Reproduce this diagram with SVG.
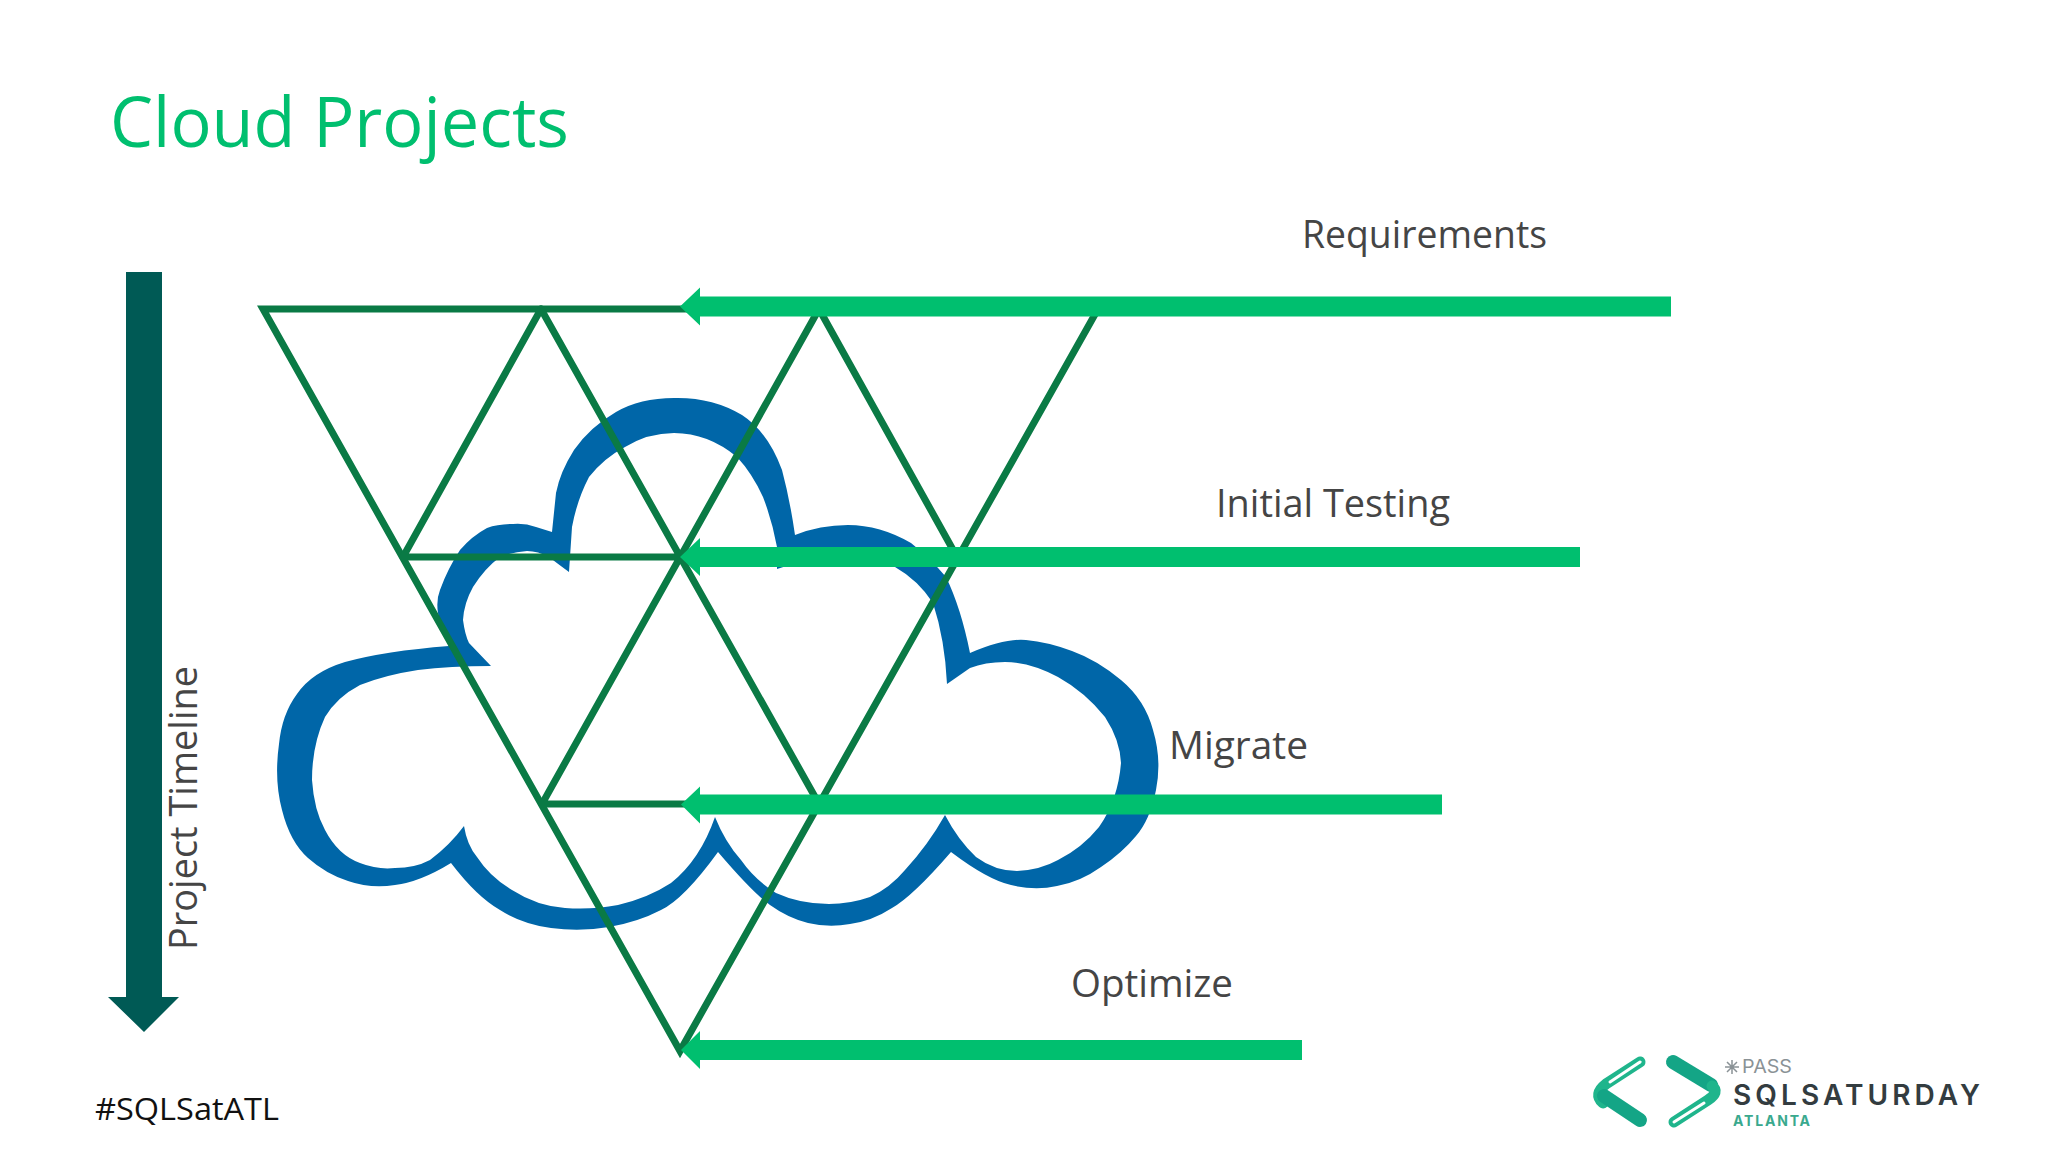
<svg xmlns="http://www.w3.org/2000/svg" width="2048" height="1152" viewBox="0 0 2048 1152">
<style>
.t{font-family:"Open Sans","Noto Sans",sans-serif;fill:#454545;font-size:38px}
.tri{stroke:#0a7a45;stroke-width:7;fill:none;stroke-linecap:round}
.arr{fill:#00bf6f}
</style>
<rect width="2048" height="1152" fill="#fff"/>
<text x="110" y="147" font-family="'Open Sans','Noto Sans',sans-serif" font-size="70" fill="#00bf6f" textLength="459" lengthAdjust="spacingAndGlyphs">Cloud Projects</text>
<g id="cloud">
<path fill="#0066a8" fill-rule="evenodd" d="M449 646Q385 651 345 662Q312 672 297 694Q282 714 279 744Q274 780 282 810Q290 842 308 858Q326 874 348 881Q371 889 395 885Q420 882 451 863Q477 897 500 910Q522 924 551 928Q580 932 609 927Q638 922 661 910Q684 899 718 852Q753 893 770 905Q788 918 808 923Q829 928 850 924Q872 921 892 908Q913 896 951 852Q988 880 1011 885Q1035 891 1057 886Q1080 882 1101 867Q1122 853 1136 836Q1150 820 1156 790Q1162 760 1153 730Q1145 700 1121 680Q1097 660 1072 651Q1048 642 1026 640Q1005 638 970 653Q961 608 946 577Q930 558 911 543Q880 525 848 525Q820 525 795 535Q790 500 782 470Q768 432 742 415Q712 397 674 398Q640 398 616 412Q590 427 574 450Q560 472 556 493L552 532L536 527Q525 523 513 524Q498 524 487 528Q472 536 460 550Q448 568 440 590Q436 600 438 613Q440 630 449 646Z M491 666Q450 666 418 670Q385 675 360 685Q337 697 325 717Q312 745 312 780Q314 810 325 830Q338 855 360 863Q378 870 395 868Q415 868 430 860Q450 845 464 826Q467 845 477 857Q490 877 512 890Q537 906 565 908Q592 910 618 905Q648 898 671 883Q700 860 715 817Q725 842 741 860Q755 880 776 893Q800 904 829 904Q850 904 870 897Q890 888 905 870Q928 845 945 815Q958 840 976 857Q995 871 1017 871Q1040 870 1058 860Q1082 848 1099 827Q1118 800 1121 763Q1120 740 1105 717Q1085 692 1058 677Q1030 662 1005 662Q985 662 970 668L947 684Q945 640 933 603Q918 580 895 567Q872 558 848 558Q822 557 799 562L777 569L777 547Q772 520 763 497Q752 473 737 457Q708 433 674 433Q648 433 625 447Q604 458 589 477Q577 500 572 527L569 572Q558 564 549 557Q538 551 527 551Q512 552 500 557Q485 568 473 587Q464 603 463 620Q465 635 469 643Z"/>
</g>
<g id="connectors">
<g id="triangles">
<path class="tri" d="M263 309H1098L680 1051Z"/>
<path class="tri" d="M403 557H957M542 804H819M541 309L403 557M541 309L819 804M819 309L542 804M819 309L957 557"/>
</g>
<g id="arrows">
<path class="arr" d="M680 306.500L700 287.500V296.500H1671V316.500H700V325.500Z"/>
<path class="arr" d="M680 557L700 538V547H1580V567H700V576Z"/>
<path class="arr" d="M681 804.500L700 786.500V794.500H1442V814.500H700V823.500Z"/>
<path class="arr" d="M681 1050L700 1031V1040H1302V1060H700V1069Z"/>
<path id="timeline-arrow" fill="#005a55" d="M126 272H162V997H179L144 1032L108 997H126Z"/>
</g>
</g>
<g id="labels">
<text class="t" x="1302" y="248" textLength="245" lengthAdjust="spacingAndGlyphs">Requirements</text>
<text class="t" x="1216" y="517" textLength="234" lengthAdjust="spacingAndGlyphs">Initial Testing</text>
<text class="t" x="1169" y="759" textLength="139" lengthAdjust="spacingAndGlyphs">Migrate</text>
<text class="t" x="1071" y="997" textLength="162" lengthAdjust="spacingAndGlyphs">Optimize</text>
<text class="t" transform="translate(197 950) rotate(-90)" textLength="284" lengthAdjust="spacingAndGlyphs">Project Timeline</text>
<text x="95" y="1120" font-family="'Open Sans','Noto Sans',sans-serif" font-size="31" fill="#111" textLength="184" lengthAdjust="spacingAndGlyphs">#SQLSatATL</text>
</g>
<g id="logo">
<path d="M1640 1062L1606 1084Q1593 1094 1603 1103" fill="none" stroke="#1fb58c" stroke-width="11" stroke-linecap="round"/>
<path d="M1640 1062L1610 1082" fill="none" stroke="#fff" stroke-width="3" stroke-linecap="round"/>
<path d="M1604 1096L1640 1120" fill="none" stroke="#14a586" stroke-width="14" stroke-linecap="round"/>
<path d="M1673 1062L1711 1085" fill="none" stroke="#14a586" stroke-width="14" stroke-linecap="round"/>
<path d="M1712 1086Q1720 1092 1708 1100L1674 1122" fill="none" stroke="#1fb58c" stroke-width="11" stroke-linecap="round"/>
<path d="M1704 1103L1674 1122" fill="none" stroke="#fff" stroke-width="3" stroke-linecap="round"/>
<path d="M1732 1060V1074M1725 1067H1739M1727 1062L1737 1072M1737 1062L1727 1072" stroke="#8a9296" stroke-width="1.500" fill="none"/>
<text x="1742" y="1073" font-family="Inter,sans-serif" font-size="18" fill="#8a9296" textLength="50" lengthAdjust="spacingAndGlyphs">PASS</text>
<text x="1733" y="1105" font-family="Inter,sans-serif" font-weight="600" font-size="28" fill="#333c40" textLength="247" lengthAdjust="spacing">SQLSATURDAY</text>
<text x="1733" y="1126" font-family="Inter,sans-serif" font-weight="700" font-size="14" fill="#3aa98e" textLength="77" lengthAdjust="spacing">ATLANTA</text>
</g>
</svg>
